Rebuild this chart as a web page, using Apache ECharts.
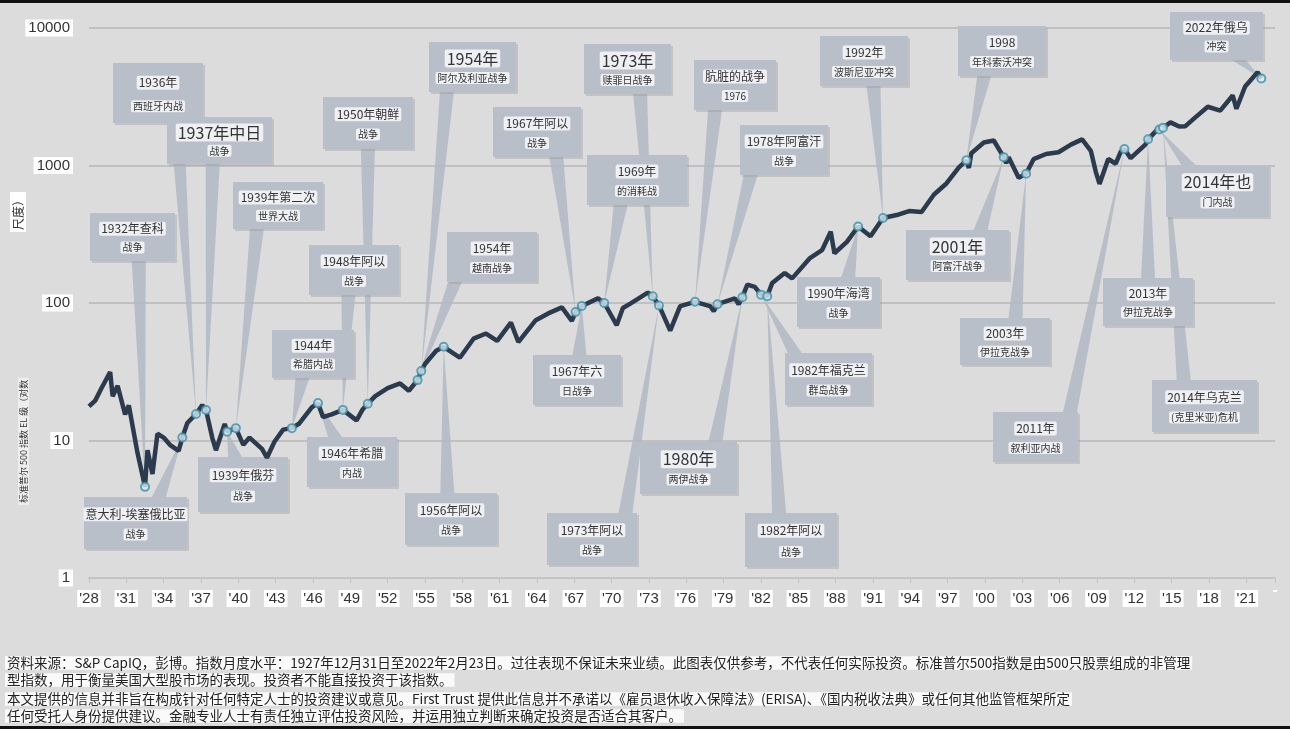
<!DOCTYPE html>
<html><head><meta charset="utf-8">
<script src="https://cdn.jsdelivr.net/npm/echarts@6/dist/echarts.min.js"></script>
<style>html,body{margin:0;padding:0;background:#dcdcdc}#c{width:1290px;height:729px}</style>
</head><body><div id="c"></div>
<script>
// S&P 500 levels [year, value]
const spYears = [1928.0,1928.5,1929.0,1929.7,1929.9,1930.3,1930.9,1931.2,1931.9,1932.5,1932.7,1933.1,1933.5,1934.0,1934.5,1935.2,1935.5,1935.9,1936.6,1937.1,1937.4,1937.9,1938.2,1938.9,1939.1,1939.8,1940.4,1940.9,1941.9,1942.3,1942.9,1943.6,1944.3,1944.9,1945.9,1946.4,1946.8,1947.5,1948.4,1949.5,1950.0,1950.4,1951.0,1952.0,1953.0,1953.7,1954.4,1954.7,1955.0,1955.9,1956.5,1957.8,1958.9,1959.9,1960.8,1961.9,1962.5,1963.9,1964.9,1966.0,1966.8,1967.1,1967.6,1968.9,1969.4,1970.4,1970.9,1971.5,1972.9,1973.3,1973.8,1974.7,1975.5,1976.7,1977.9,1978.2,1978.5,1979.9,1980.2,1980.5,1980.9,1981.5,1982.0,1982.5,1982.9,1983.9,1984.5,1985.9,1986.9,1987.6,1987.9,1988.9,1989.8,1990.8,1991.8,1992.9,1993.9,1994.9,1995.9,1996.9,1997.9,1998.5,1998.7,1998.9,1999.9,2000.7,2001.5,2001.7,2001.9,2002.7,2003.3,2003.9,2004.9,2005.9,2006.9,2007.8,2008.5,2008.9,2009.2,2009.9,2010.5,2010.9,2011.2,2011.7,2012.9,2013.1,2013.9,2014.0,2014.3,2014.9,2015.6,2016.1,2016.9,2017.9,2018.9,2019.9,2020.2,2020.9,2021.9,2022.2];
const spValues = [17.7,19.5,24,31.5,21,25,15.5,18,8.1,4.6,8.5,5.7,11.2,10.5,9.3,8.4,10.5,13.4,15.6,18.1,16.7,10.5,8.5,13.2,11.6,12.3,9.3,10.5,8.7,7.5,9.8,12,12.3,13.3,17.4,18.7,14.8,15.5,16.7,14,16.9,18.5,21,24,26,23,27.5,32,36,45,48,40,55,60,53,72,52,75,84,93,74,86,95,108,100,69,92,99,119,112,96,63,95,102,95,87,98,108,98,110,136,131,115,112,140,165,151,211,242,330,230,278,360,306,415,436,466,459,615,740,970,1090,960,1229,1469,1520,1150,1040,1148,815,870,1112,1212,1248,1418,1549,1280,900,735,1115,1030,1258,1320,1131,1426,1550,1848,1830,1880,2059,1920,1932,2239,2674,2507,3231,2585,3756,4766,4300];
// event markers
const evYears = [1932.5,1935.5,1936.6,1937.4,1939.1,1939.8,1944.3,1946.4,1948.4,1950.4,1954.4,1954.7,1956.5,1967.1,1967.6,1969.4,1973.3,1973.8,1976.7,1978.5,1980.5,1982.0,1982.5,1989.8,1991.8,1998.5,2001.5,2003.3,2011.2,2013.1,2014.0,2014.3,2022.2];
const evValues = [4.6,10.5,15.6,16.7,11.6,12.3,12.3,18.7,16.7,18.5,27.5,32,48,86,95,100,112,96,102,98,110,115,112,360,415,1090,1150,870,1320,1550,1830,1880,4300];
const yTicks = ['1','10','100','1000','10000'];
const baseYear = 1928;
// callouts: [title, subtitle, event index, big title]
const callTitles = ['1936年','1937年中日','1932年查科','1939年第二次','1950年朝鲜','1948年阿以','1954年','1954年','1967年阿以','1973年','1969年','肮脏的战争','1978年阿富汗','1992年','1998','2022年俄乌','2014年也','2001年','1990年海湾','2003年','2013年','2014年乌克兰','2011年','1982年福克兰','1982年阿以','1980年','1973年阿以','1967年六','1956年阿以','1946年希腊','1944年','1939年俄芬','意大利-埃塞俄比亚'];
const callSubs = ['西班牙内战','战争','战争','世界大战','战争','战争','阿尔及利亚战争','越南战争','战争','赎罪日战争','的消耗战','1976','战争','波斯尼亚冲突','年科索沃冲突','冲突','门内战','阿富汗战争','战争','伊拉克战争','伊拉克战争','(克里米亚)危机','叙利亚内战','群岛战争','战争','两伊战争','战争','日战争','战争','内战','希腊内战','战争','战争'];
const callEvent = [2,3,0,5,9,8,11,10,13,16,15,18,19,24,25,32,30,26,23,27,29,31,28,21,22,20,17,14,12,7,6,4,1];
const callBig = [0,1,0,0,0,0,1,0,0,1,0,0,0,0,0,0,1,1,0,0,0,0,0,0,0,1,0,0,0,0,0,0,0];
const boxes = [[113,63,90,60],[167,117,105,47],[90,213,85,48],[233,182,90,47],[323,97,90,52],[309,245,90,50],[429,42,87,50],[447,232,90,50],[493,107,88,50],[584,44,87,50],[587,155,100,50],[694,60,82,50],[740,125,88,50],[820,36,88,50],[958,26,88,50],[1170,12,93,48],[1166,165,103,52],[906,230,103,50],[797,277,83,50],[960,318,90,47],[1103,278,90,48],[1152,380,105,52],[993,412,85,50],[785,353,87,52],[745,513,92,54],[640,442,97,52],[547,513,90,52],[533,355,88,50],[405,493,92,52],[307,437,90,50],[272,330,82,48],[198,457,90,55],[84,497,103,52]];

const chart = echarts.init(document.getElementById('c'));
const lineData = spYears.map((y,i)=>[y-baseYear, spValues[i]]);
const evData = evYears.map((y,i)=>[y-baseYear, evValues[i]]);
const FONT = 'Liberation Sans Narrow, Liberation Sans, Noto Sans CJK SC, sans-serif';
chart.setOption({
  backgroundColor:'#dcdcdc',
  animation:false,
  grid:{left:89,right:15,top:28,bottom:151},
  xAxis:{type:'value',min:0,max:95.3,interval:3,
    axisLine:{lineStyle:{color:'#c4c4c4',width:2}},axisTick:{show:true,length:5,lineStyle:{color:'#c4c4c4'}},
    splitLine:{show:false},
    axisLabel:{margin:12,color:'#333',fontSize:15,fontFamily:FONT,backgroundColor:'#fff',padding:[1,2],
      formatter:v=>(v+baseYear)>2021?'':"'"+String((v+baseYear)%100).padStart(2,'0')}},
  yAxis:{type:'log',logBase:10,min:1,max:10000,
    axisLine:{show:false},axisTick:{show:false},
    splitLine:{lineStyle:{color:'#c0c0c0',width:2}},
    axisLabel:{margin:16,color:'#333',fontSize:15,fontFamily:FONT,backgroundColor:'#fff',padding:[1,3],
      formatter:v=>yTicks.includes(String(v))?String(v):''}},
  series:[
    {type:'line',data:lineData,showSymbol:false,lineStyle:{color:'#2b3a4c',width:4.5},z:3},
    {type:'scatter',data:evData,symbol:'circle',symbolSize:8,itemStyle:{color:'#d9eef5',borderColor:'#3d8fa8',borderWidth:2},z:6}
  ]
});

const g = [];
boxes.forEach((b,i)=>{
  const [x,y,w,h]=b;
  const tip = chart.convertToPixel({seriesIndex:1}, evData[callEvent[i]]);
  const cx = x+w/2;
  const below = tip[1] > y+h;
  let bx = cx + (tip[0]-cx)*0.5;
  bx = Math.max(x+8, Math.min(x+w-8, bx));
  const by = below ? y+h : y;
  g.push({type:'polygon',z:1,shape:{points:[[bx-7,by],[bx+7,by],[tip[0],tip[1]]]},style:{fill:'rgba(178,185,196,0.85)'}});
  g.push({type:'rect',z:2,shape:{x:x+2,y:y+2,width:w,height:h},style:{fill:'rgba(150,150,150,0.35)'}});
  g.push({type:'rect',z:2,shape:{x:x,y:y,width:w,height:h},style:{fill:'#b9bfc9'}});
  const big = callBig[i];
  g.push({type:'text',z:4,x:cx,y:y+h*0.33,style:{text:callTitles[i],fontSize:big?16:12,fill:'#333',align:'center',verticalAlign:'middle',fontFamily:'Noto Sans CJK SC',backgroundColor:'#eef0f4',padding:[1,2],borderRadius:2}});
  g.push({type:'text',z:4,x:cx,y:y+h*0.72,style:{text:callSubs[i],fontSize:10,fill:'#333',align:'center',verticalAlign:'middle',fontFamily:'Noto Sans CJK SC',backgroundColor:'#eef0f4',padding:[1,2],borderRadius:2}});
});
// y-axis name
g.push({type:'text',x:18,y:505,rotation:Math.PI/2,style:{text:'标准普尔 500 指数 EL 级（对数',fontSize:9,fill:'#333',fontFamily:'Noto Sans CJK SC',backgroundColor:'#eee',padding:[1,2]}});
g.push({type:'text',x:10,y:232,rotation:Math.PI/2,style:{text:'尺度）',fontSize:12,fill:'#333',fontFamily:'Noto Sans CJK SC',backgroundColor:'#fff',padding:[2,2]}});
// footer
const foot = ['资料来源：S&P CapIQ，彭博。指数月度水平：1927年12月31日至2022年2月23日。过往表现不保证未来业绩。此图表仅供参考，不代表任何实际投资。标准普尔500指数是由500只股票组成的非管理',
'型指数，用于衡量美国大型股市场的表现。投资者不能直接投资于该指数。',
'本文提供的信息并非旨在构成针对任何特定人士的投资建议或意见。First Trust 提供此信息并不承诺以《雇员退休收入保障法》(ERISA)、《国内税收法典》或任何其他监管框架所定',
'任何受托人身份提供建议。金融专业人士有责任独立评估投资风险，并运用独立判断来确定投资是否适合其客户。'];
const fy=[663,680,699,716];
foot.forEach((t,i)=>g.push({type:'text',x:5,y:fy[i],style:{text:t,fontSize:13.5,fill:'#222',verticalAlign:'middle',fontFamily:'Noto Sans CJK SC',backgroundColor:'#fafafa',padding:[0,2]}}));
g.push({type:'rect',shape:{x:0,y:0,width:1290,height:3},style:{fill:'#111'}});
g.push({type:'rect',shape:{x:0,y:726,width:1290,height:3},style:{fill:'#111'}});
chart.setOption({graphic:g});
</script></body></html>
